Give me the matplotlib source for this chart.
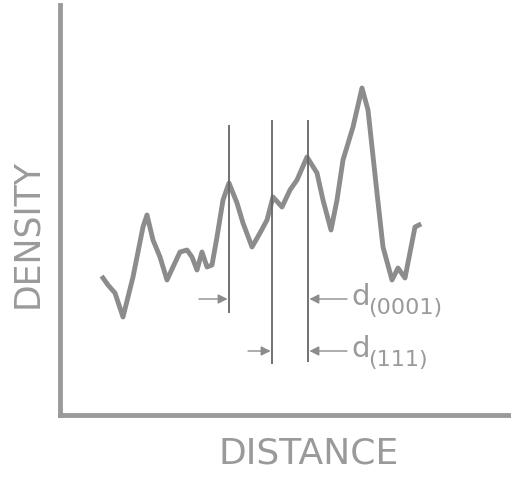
import matplotlib
matplotlib.use("Agg")
import matplotlib.pyplot as plt

# density trace (distance, density in arbitrary units)
distance = [43, 48, 55, 63, 73, 83, 87, 93, 100, 107, 113, 120, 127, 132, 137,
            142, 147, 152, 157, 163, 169, 177, 183, 192, 200, 207, 213, 222, 230,
            237, 247, 257, 263, 271, 277, 283, 293, 302, 308, 317, 323, 332, 338,
            345, 355, 359]
density = [137, 130, 122, 98, 138, 188, 200, 175, 158, 135, 148, 163, 165, 158,
           145, 163, 148, 150, 178, 215, 232, 212, 192, 168, 182, 195, 218, 208,
           225, 235, 258, 242, 215, 185, 215, 255, 288, 327, 305, 222, 168, 135,
           147, 137, 188, 190]

# vertical marker lines at the peaks
marker_x = [169, 212, 248]
marker_top = [290, 295, 295]
marker_bottom = [102, 51, 53]

# spacing arrows: (start x, end x, y)
arrow_start = [139, 188, 287, 287]
arrow_end = [169, 212, 248, 248]
arrow_y = [116, 64, 116, 64]

labels = ["(0001)", "(111)"]
label_y = [116, 64]

GREY = "#8c8c8c"
TEXT_GREY = "#9a9a9a"

fig = plt.figure(figsize=(5.11, 4.78), dpi=100)
ax = fig.add_axes([60 / 511, 63 / 478, 451 / 511, 410 / 478])
ax.set_xlim(0, 451)
ax.set_ylim(0, 410)
ax.set_xticks([])
ax.set_yticks([])
for side in ["top", "right"]:
    ax.spines[side].set_visible(False)
for side in ["left", "bottom"]:
    ax.spines[side].set_color("#9a9a9a")
    ax.spines[side].set_linewidth(3.5)

ax.plot(distance, density, color=GREY, lw=3.5, solid_joinstyle="round")

ax.vlines(marker_x, marker_bottom, marker_top, color="#666666", lw=1.3)

for x0, x1, y in zip(arrow_start, arrow_end, arrow_y):
    ax.annotate("", xy=(x1, y), xytext=(x0, y),
                arrowprops=dict(arrowstyle="-|>", color=GREY, lw=1.0,
                                mutation_scale=14, shrinkA=0, shrinkB=1))

for sub, y in zip(labels, label_y):
    ax.text(291, y - 6, "d", fontsize=21, color=TEXT_GREY, ha="left",
            va="baseline")
    ax.text(308, y - 15, sub, fontsize=16, color=TEXT_GREY, ha="left",
            va="baseline")

fig.text(309 / 511, 1 - 453 / 478, "DISTANCE", fontsize=26, color=TEXT_GREY,
         ha="center", va="center")
fig.text(27 / 511, 1 - 233 / 478, "DENSITY", fontsize=25, color=TEXT_GREY,
         ha="center", va="center", rotation=90)

fig.savefig("out.png", dpi=100)
